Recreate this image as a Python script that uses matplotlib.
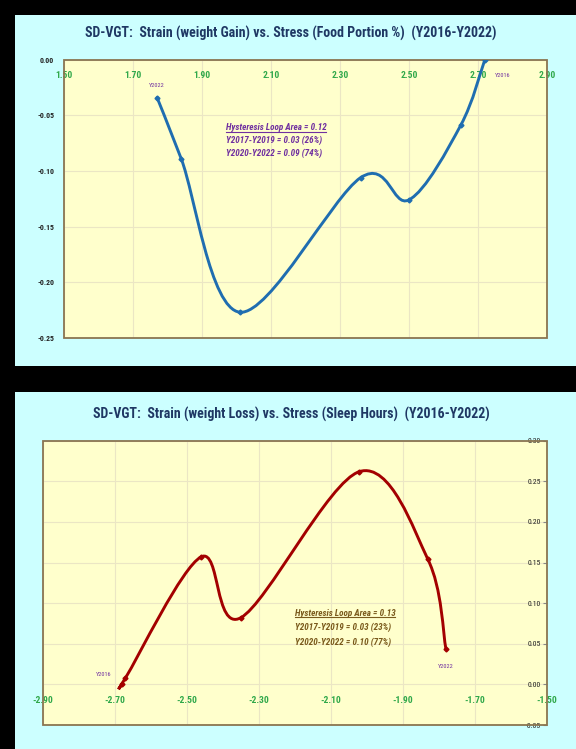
import numpy as np
import matplotlib
matplotlib.use('Agg')
import matplotlib.pyplot as plt
from matplotlib.path import Path
from matplotlib.patches import PathPatch, Rectangle
from matplotlib.lines import Line2D
from matplotlib import font_manager

# strain vs stress, one point per year Y2016..Y2022
years = ['Y2016', 'Y2017', 'Y2018', 'Y2019', 'Y2020', 'Y2021', 'Y2022']

food_stress = [2.72, 2.65, 2.50, 2.36, 2.01, 1.84, 1.77]
gain_strain = [0.000, -0.059, -0.126, -0.106, -0.227, -0.089, -0.034]

sleep_stress = [-2.68, -2.67, -2.46, -2.35, -2.02, -1.83, -1.78]
loss_strain = [0.000, 0.008, 0.157, 0.082, 0.262, 0.154, 0.044]

gain_xticks = [1.50, 1.70, 1.90, 2.10, 2.30, 2.50, 2.70, 2.90]
gain_yticks = [0.00, -0.05, -0.10, -0.15, -0.20, -0.25]
loss_xticks = [-2.90, -2.70, -2.50, -2.30, -2.10, -1.90, -1.70, -1.50]
loss_yticks = [0.30, 0.25, 0.20, 0.15, 0.10, 0.05, 0.00, -0.05]

gain_title = 'SD-VGT:  Strain (weight Gain) vs. Stress (Food Portion %)  (Y2016-Y2022)'
loss_title = 'SD-VGT:  Strain (weight Loss) vs. Stress (Sleep Hours)  (Y2016-Y2022)'
gain_notes = ['Hysteresis Loop Area = 0.12', 'Y2017-Y2019 = 0.03 (26%)', 'Y2020-Y2022 = 0.09 (74%)']
loss_notes = ['Hysteresis Loop Area = 0.13', 'Y2017-Y2019 = 0.03 (23%)', 'Y2020-Y2022 = 0.10 (77%)']

installed = {f.name for f in font_manager.fontManager.ttflist}
narrow = 'DejaVu Sans'
for name in ['Liberation Sans Narrow', 'Roboto Condensed', 'Lato', 'Open Sans']:
    if name in installed:
        narrow = name
        break
plt.rcParams['font.family'] = [narrow, 'DejaVu Sans']

PANEL = '#ccffff'
PLOT_BG = '#ffffcc'
GRID = '#ebe6c4'
EDGE = '#8a7550'
TICK_GREEN = '#30a84a'
NOTE_PURPLE = '#7030a0'
NOTE_BROWN = '#7a5a1c'


def smooth_path(xs, ys):
    # catmull-rom style bezier through the points, like a smoothed excel line
    pts = np.column_stack([xs, ys]).astype(float)
    n = len(pts)
    verts = [pts[0]]
    codes = [Path.MOVETO]
    for i in range(n - 1):
        p0 = pts[max(i - 1, 0)]
        p1 = pts[i]
        p2 = pts[i + 1]
        p3 = pts[min(i + 2, n - 1)]
        verts += [p1 + (p2 - p0) / 6, p2 - (p3 - p1) / 6, p2]
        codes += [Path.CURVE4] * 3
    return Path(verts, codes)


def style_axes(ax, xticks, yticks):
    ax.set_facecolor(PLOT_BG)
    ax.set_zorder(2)
    ax.set_xlim(xticks[0], xticks[-1])
    ax.set_ylim(min(yticks), max(yticks))
    ax.set_xticks(xticks)
    ax.set_yticks(yticks)
    ax.set_xticklabels(['%.2f' % v for v in xticks])
    ax.set_yticklabels(['%.2f' % v for v in yticks])
    ax.grid(True, color=GRID, lw=0.8)
    ax.set_axisbelow(True)
    for s in ax.spines.values():
        s.set_visible(False)
    ax.spines['bottom'].set_position(('data', 0))
    ax.tick_params(axis='x', length=0, pad=8, labelsize=6.8, labelcolor=TICK_GREEN)
    ax.tick_params(axis='y', labelsize=5.6, labelcolor='#222222')
    for lab in ax.get_xticklabels():
        lab.set_fontweight('bold')
    for lab in ax.get_yticklabels():
        lab.set_fontweight('bold')
    ax.add_patch(Rectangle((0, 0), 1, 1, transform=ax.transAxes, fill=False,
                           edgecolor=EDGE, lw=1.3, clip_on=False, zorder=2.6))


def draw_curve(ax, xs, ys, color):
    ax.add_patch(PathPatch(smooth_path(xs, ys), fill=False, edgecolor=color,
                           lw=2.1, capstyle='round', zorder=3))
    ax.plot(xs, ys, ls='none', marker='D', ms=2.5, color=color, zorder=3)


def draw_notes(ax, x, y, step, notes, color):
    texts = []
    for i, line in enumerate(notes):
        t = ax.text(x, y - i * step, line, transform=ax.transAxes, fontsize=6.6,
                    fontweight='bold', fontstyle='italic', color=color, va='center')
        texts.append(t)
    return texts


fig = plt.figure(figsize=(5.76, 7.49), dpi=100, facecolor='black')
fig.patches.append(Rectangle((0.026, 0.511), 0.974, 0.469, transform=fig.transFigure,
                             facecolor=PANEL, edgecolor='none', zorder=-5))
fig.patches.append(Rectangle((0.026, 0.0), 0.974, 0.476, transform=fig.transFigure,
                             facecolor=PANEL, edgecolor='none', zorder=-5))

# weight gain vs food portion
ax1 = fig.add_axes([0.111, 0.549, 0.8385, 0.3712])
style_axes(ax1, gain_xticks, gain_yticks)
ax1.tick_params(axis='y', length=0, pad=7)
draw_curve(ax1, food_stress, gain_strain, '#1f6db0')
ax1.annotate(years[0], (food_stress[0], gain_strain[0]), xytext=(13, -11),
             textcoords='offset points', fontsize=4.5, color=NOTE_PURPLE, ha='center', va='center')
ax1.annotate(years[-1], (food_stress[-1], gain_strain[-1]), xytext=(0, 9),
             textcoords='offset points', fontsize=4.5, color=NOTE_PURPLE, ha='center', va='center')
notes1 = draw_notes(ax1, 0.335, 0.755, 0.046, gain_notes, NOTE_PURPLE)
fig.text(0.505, 0.955, gain_title, ha='center', va='center', fontsize=10,
         fontweight='bold', color='#1f3864', zorder=3)

# weight loss vs sleep hours
ax2 = fig.add_axes([0.0741, 0.032, 0.875, 0.3796])
style_axes(ax2, loss_xticks, loss_yticks)
ax2.spines['left'].set_position(('data', loss_xticks[-1]))
ax2.tick_params(axis='y', length=3, direction='out', pad=1, color='#888888')
draw_curve(ax2, sleep_stress, loss_strain, '#a30000')
ax2.annotate(years[0], (sleep_stress[0], loss_strain[0]), xytext=(-13, 7),
             textcoords='offset points', fontsize=4.5, color=NOTE_PURPLE, ha='center', va='center')
ax2.annotate(years[-1], (sleep_stress[-1], loss_strain[-1]), xytext=(0, -13),
             textcoords='offset points', fontsize=4.5, color=NOTE_PURPLE, ha='center', va='center')
notes2 = draw_notes(ax2, 0.5, 0.394, 0.052, loss_notes, NOTE_BROWN)
fig.text(0.505, 0.447, loss_title, ha='center', va='center', fontsize=10,
         fontweight='bold', color='#1f3864', zorder=3)

# underline the loop-area line of each note block
fig.canvas.draw()
renderer = fig.canvas.get_renderer()
for t, color in ((notes1[0], NOTE_PURPLE), (notes2[0], NOTE_BROWN)):
    bb = t.get_window_extent(renderer)
    fig.add_artist(Line2D([bb.x0 / fig.bbox.width, bb.x1 / fig.bbox.width],
                          [(bb.y0 + 0.5) / fig.bbox.height] * 2,
                          transform=fig.transFigure, color=color, lw=0.8, zorder=5))

fig.savefig('out.png', dpi=100, facecolor='black')
